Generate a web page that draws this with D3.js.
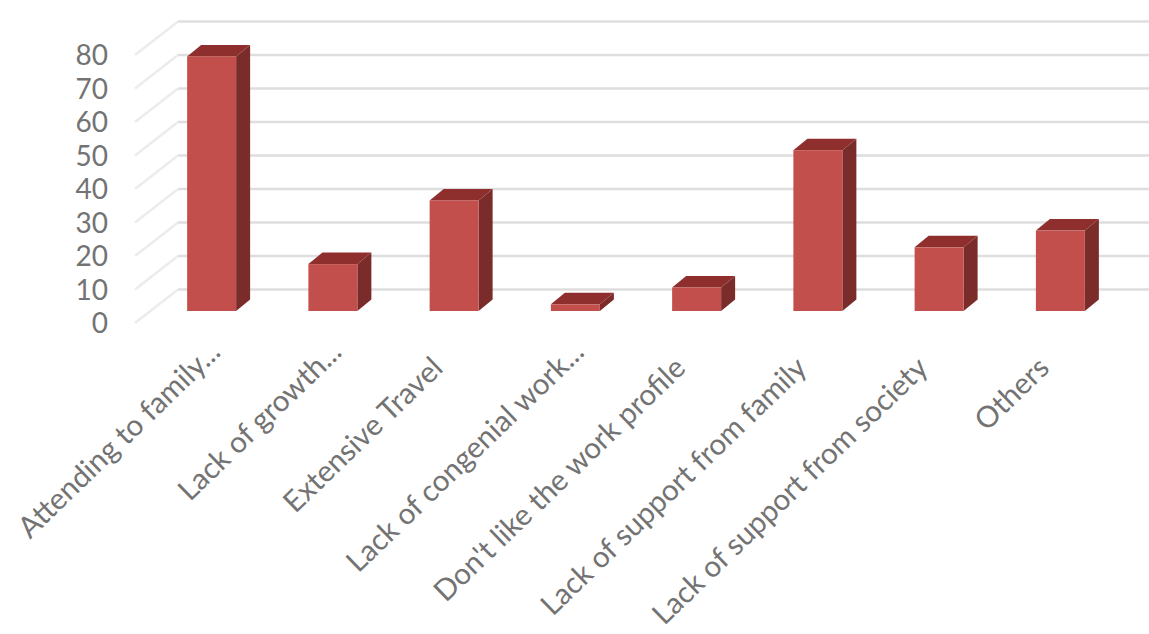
<!DOCTYPE html>
<html>
<head>
<meta charset="utf-8">
<script src="https://cdn.jsdelivr.net/npm/d3@7"></script>
<style>
  html, body { margin: 0; padding: 0; background: #fff; }
  svg { display: block; }
  text { font-family: Lato, "Open Sans", sans-serif; fill: #737373; }
</style>
</head>
<body>
<svg id="chart" width="1149" height="634"></svg>
<script>
// Reasons and their counts
const categories = [
  "Attending to family...",
  "Lack of growth...",
  "Extensive Travel",
  "Lack of congenial work...",
  "Don't like the work profile",
  "Lack of support from family",
  "Lack of support from society",
  "Others"
];
const values = [76, 14, 33, 2, 7, 48, 19, 24];
const yTicks = [0, 10, 20, 30, 40, 50, 60, 70, 80];

const W = 1149, H = 634;
const svg = d3.select("#chart");

// Scale for the front edge of the floor; the wall and bars are offset from it.
const y = d3.scaleLinear().domain([0, 80]).range([323, 55]);
const x = d3.scaleBand().domain(categories).range([151, 1121]).paddingInner(0.596).paddingOuter(0.298);

// Pseudo-3D offsets: wall depth and the bar's own plane and depth
const wall = { dx: 43, dy: -33.5 };
const barPlane = { dy: -12 };
const barDepth = { dx: 14, dy: -11.5 };
const wallLeft = 135;

// Gridlines on the wall and the side wall's slanted lines
const grid = svg.append("g").attr("stroke", "#dedede").attr("stroke-width", 2.5).attr("fill", "none");
grid.selectAll("path.back").data(yTicks).join("path")
  .attr("class", "back")
  .attr("d", d => `M${wallLeft + wall.dx},${y(d) + wall.dy}H${W}`);
grid.selectAll("path.side").data(yTicks).join("path")
  .attr("class", "side")
  .attr("stroke", "#ececec")
  .attr("d", d => `M${wallLeft},${y(d)}L${wallLeft + wall.dx},${y(d) + wall.dy}`);

// Tick labels
svg.append("g").selectAll("text").data(yTicks).join("text")
  .attr("x", 108)
  .attr("y", d => y(d) + 10)
  .attr("text-anchor", "end")
  .attr("font-size", 28)
  .text(d => d);

// Each bar is drawn as side, top and front faces
const bars = svg.append("g").selectAll("g").data(values).join("g");
const x0 = (d, i) => x(categories[i]);
const x1 = (d, i) => x0(d, i) + x.bandwidth();
const base = y(0) + barPlane.dy;
const top_ = d => y(d) + barPlane.dy;

bars.append("path").attr("fill", "#7a2c2a")
  .attr("d", (d, i) => `M${x1(d, i)},${base}L${x1(d, i) + barDepth.dx},${base + barDepth.dy}L${x1(d, i) + barDepth.dx},${top_(d) + barDepth.dy}L${x1(d, i)},${top_(d)}Z`);
bars.append("path").attr("fill", "#8f2f2d")
  .attr("d", (d, i) => `M${x0(d, i)},${top_(d)}L${x0(d, i) + barDepth.dx},${top_(d) + barDepth.dy}L${x1(d, i) + barDepth.dx},${top_(d) + barDepth.dy}L${x1(d, i)},${top_(d)}Z`);
bars.append("rect").attr("fill", "#c24f4b")
  .attr("x", (d, i) => x0(d, i))
  .attr("y", d => top_(d))
  .attr("width", x.bandwidth())
  .attr("height", d => base - top_(d));

// Category labels, rotated; truncated ones sit a little further right
const labelEnd = d => x(d) + (d.endsWith("...") ? 35 : 15);
svg.append("g").selectAll("text").data(categories).join("text")
  .attr("transform", d => `translate(${labelEnd(d)},${d.endsWith("...") ? 354 : 370}) rotate(-44)`)
  .attr("text-anchor", "end")
  .attr("font-size", 29.5)
  .text(d => d);
</script>
</body>
</html>
